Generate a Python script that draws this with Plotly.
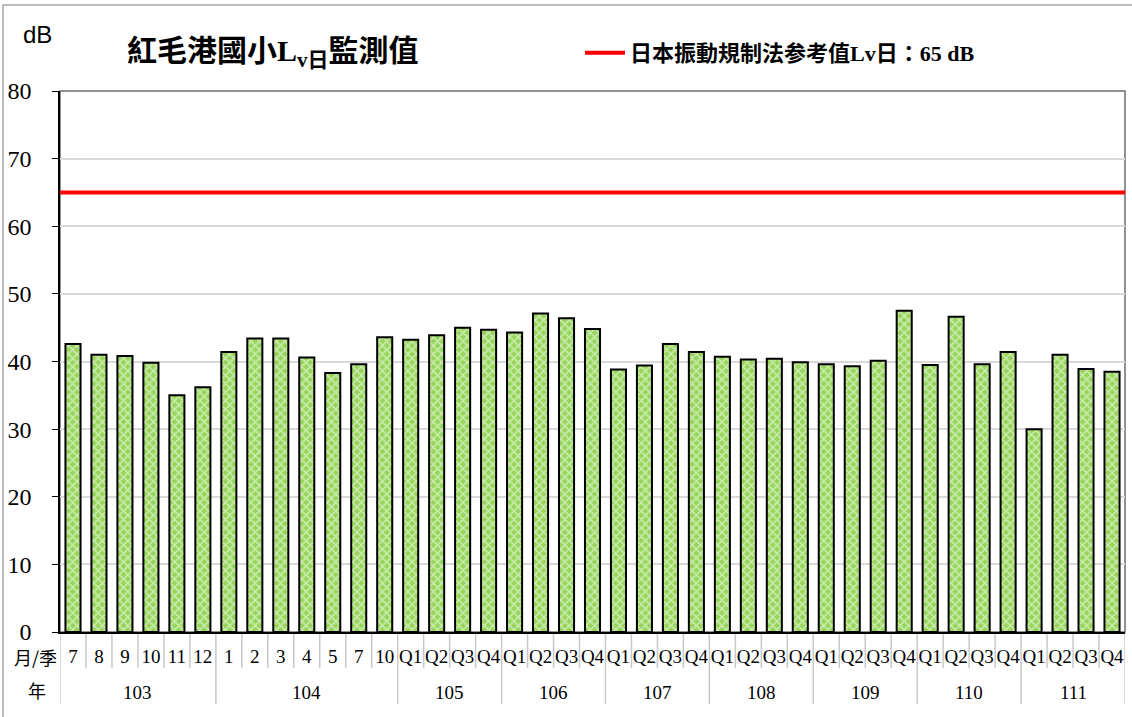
import plotly.graph_objects as go

# ---- data ----
years = ["103"] * 6 + ["104"] * 7 + ["105"] * 4 + ["106"] * 4 + ["107"] * 4 + ["108"] * 4 + ["109"] * 4 + ["110"] * 4 + ["111"] * 4
periods = ["7", "8", "9", "10", "11", "12",
           "1", "2", "3", "4", "5", "7", "10"] + ["Q1", "Q2", "Q3", "Q4"] * 7
values = [42.6, 41.0, 40.8, 39.8, 35.0, 36.2,
          41.4, 43.4, 43.4, 40.6, 38.3, 39.6, 43.6,
          43.2, 43.9, 45.0, 44.7,
          44.3, 47.1, 46.4, 44.8,
          38.8, 39.4, 42.6, 41.4,
          40.7, 40.3, 40.4, 39.9,
          39.6, 39.3, 40.1, 47.5,
          39.5, 46.6, 39.6, 41.4,
          30.0, 41.0, 38.9, 38.5]
limit_value = 65
limit_name = "日本振動規制法参考值Lv日：65 dB"

n = len(values)
xs = list(range(n))

W, H = 1132, 717
L, R, T, B = 60, 7, 91, 85
pw, ph = W - L - R, H - T - B

def px_x(p):
    return (p - L) / pw

def px_y(p):
    return (H - B - p) / ph

SERIF = "Liberation Serif, Times New Roman, Noto Sans CJK TC, serif"

fig = go.Figure()
fig.add_trace(go.Bar(
    x=xs, y=values, showlegend=False,
    marker=dict(color="#96D55A",
                line=dict(color="black", width=2),
                pattern=dict(shape="x", fillmode="overlay", fgcolor="white",
                              size=6, solidity=0.45)),
    width=0.58,
))
fig.add_trace(go.Scatter(
    x=[-0.5, n - 0.5], y=[limit_value, limit_value], mode="lines",
    line=dict(color="#FF0000", width=4), name=limit_name, showlegend=True,
))

shapes = []
bounds = [0]
for i in range(1, n):
    if years[i] != years[i - 1]:
        bounds.append(i)
bounds.append(n)
for i in range(0, n + 1):
    long_ = i in bounds
    shapes.append(dict(type="line", xref="x", yref="paper",
                       x0=i - 0.5, x1=i - 0.5, y0=0,
                       y1=px_y(704) if long_ else px_y(668),
                       line=dict(color="#C8C8C8", width=1.5), layer="below"))
shapes.append(dict(type="rect", xref="paper", yref="paper", x0=0, x1=1, y0=0, y1=1,
                   line=dict(color="#6E6E6E", width=1.5), layer="below"))
shapes.append(dict(type="rect", xref="paper", yref="paper",
                   x0=px_x(3), x1=px_x(1140), y0=px_y(730), y1=px_y(5),
                   line=dict(color="#A6A6A6", width=1.5)))

annotations = []
for k in range(len(bounds) - 1):
    a, b = bounds[k], bounds[k + 1]
    annotations.append(dict(x=(a + b - 1) / 2, y=px_y(692), xref="x", yref="paper",
                            text=years[a], showarrow=False,
                            font=dict(family=SERIF, size=19, color="black"),
                            xanchor="center", yanchor="middle"))
annotations.append(dict(x=px_x(35), y=px_y(657), xref="paper", yref="paper",
                        text="月/季", showarrow=False, xanchor="center", yanchor="middle",
                        font=dict(family="Noto Sans CJK TC", size=18, color="black")))
annotations.append(dict(x=px_x(37), y=px_y(690), xref="paper", yref="paper",
                        text="年", showarrow=False, xanchor="center", yanchor="middle",
                        font=dict(family="Noto Sans CJK TC", size=18, color="black")))
annotations.append(dict(x=px_x(37), y=px_y(34), xref="paper", yref="paper",
                        text="dB", showarrow=False, xanchor="center", yanchor="middle",
                        font=dict(family="Liberation Sans, Arial", size=24, color="black")))
annotations.append(dict(x=px_x(273), y=px_y(53), xref="paper", yref="paper",
                        text="紅毛港國小L<sub>v日</sub>監測值", showarrow=False,
                        xanchor="center", yanchor="middle",
                        font=dict(family=SERIF, size=30, color="black", weight="bold")))

fig.update_layout(
    width=W, height=H,
    margin=dict(l=L, r=R, t=T, b=B),
    paper_bgcolor="white", plot_bgcolor="white",
    shapes=shapes, annotations=annotations,
    legend=dict(orientation="h", x=px_x(580), y=px_y(53), xanchor="left", yanchor="middle",
                font=dict(family=SERIF, size=22, color="black", weight="bold"),
                bgcolor="rgba(0,0,0,0)", itemwidth=40),
    xaxis=dict(range=[-0.5, n - 0.5], tickvals=xs, ticktext=periods,
               tickfont=dict(family=SERIF, size=19, color="black"),
               showgrid=False, zeroline=False, showline=True, linecolor="black",
               linewidth=1.5, ticks="", ticklabelstandoff=6),
    yaxis=dict(range=[0, 80], dtick=10, showgrid=True, gridcolor="#D9D9D9", gridwidth=1.5,
               zeroline=False, showline=True, linecolor="black", linewidth=1.5,
               ticks="outside", ticklen=6, tickcolor="black",
               tickfont=dict(family=SERIF, size=24, color="black"),
               ticklabelstandoff=16),
)

fig.write_html("out.html", config={"displayModeBar": False},
               post_script="document.body.style.margin='0';")
